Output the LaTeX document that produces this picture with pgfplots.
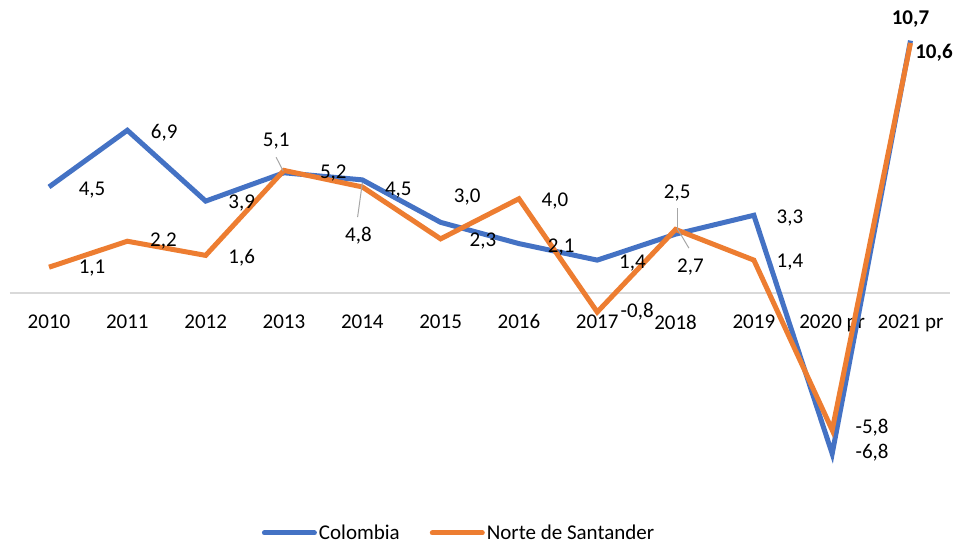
\documentclass[border=0pt]{standalone}
\usepackage{fontspec}
\setmainfont{Carlito}
\usepackage{pgfplots}
\pgfplotsset{compat=1.18}
\definecolor{colblue}{HTML}{4472C4}
\definecolor{nsorange}{HTML}{ED7D31}
\definecolor{zeroline}{HTML}{D9D9D9}
\definecolor{leader}{HTML}{A6A6A6}
\begin{document}
\begin{tikzpicture}[font=\fontsize{21}{25}\selectfont]
\begin{axis}[
  x=78.3pt, y=23.6pt,
  xmin=-0.5, xmax=11.5, ymin=-8, ymax=12,
  axis x line=middle, axis y line=none,
  x axis line style={-, draw=zeroline, line width=1.5pt},
  xtick={0,...,11},
  xticklabels={2010,2011,2012,2013,2014,2015,2016,2017,2018,2019,2020 pr,2021 pr},
  major tick length=0pt,
  hide obscured x ticks=false,
  xticklabel style={font=\fontsize{21}{25}\selectfont, yshift=-18pt},
  clip=false,
  legend columns=2,
  legend style={draw=none, fill=none, at={(0.478,-0.108)}, anchor=center,
    font=\fontsize{21}{25}\selectfont,
    /tikz/every even column/.append style={column sep=28pt}},
  legend image code/.code={\draw[#1, line cap=round] (0pt,0pt) -- (50pt,0pt);},
]
\addplot[colblue, line width=5pt, line join=miter] coordinates {
  (0,4.5) (1,6.9) (2,3.9) (3,5.1) (4,4.8) (5,3.0)
  (6,2.1) (7,1.4) (8,2.5) (9,3.3) (10,-6.8) (11,10.7)};
\addlegendentry{Colombia}
\addplot[nsorange, line width=5pt, line join=miter] coordinates {
  (0,1.1) (1,2.2) (2,1.6) (3,5.2) (4,4.5) (5,2.3)
  (6,4.0) (7,-0.8) (8,2.7) (9,1.4) (10,-5.8) (11,10.6)};
\addlegendentry{Norte de Santander}

% leader lines
\draw[leader, line width=1pt] (axis cs:2.90,5.76) -- (axis cs:2.99,5.17);
\draw[leader, line width=1pt] (axis cs:4.00,4.66) -- (axis cs:3.94,3.22);
\draw[leader, line width=1pt] (axis cs:8.02,3.60) -- (axis cs:8.02,2.67);
\draw[leader, line width=1pt] (axis cs:8.02,2.75) -- (axis cs:8.17,1.91);

% Colombia labels
\node at (axis cs:0.55,4.36) {4,5};
\node at (axis cs:1.47,6.78) {6,9};
\node at (axis cs:2.46,3.81) {3,9};
\node at (axis cs:2.90,6.44) {5,1};
\node at (axis cs:3.95,2.42) {4,8};
\node at (axis cs:5.34,4.07) {3,0};
\node at (axis cs:6.54,1.95) {2,1};
\node at (axis cs:7.45,1.27) {1,4};
\node at (axis cs:8.02,4.24) {2,5};
\node at (axis cs:9.46,3.18) {3,3};
\node at (axis cs:10.51,-6.74) {-6,8};
\node[font=\fontsize{21}{25}\selectfont\bfseries] at (axis cs:11.0,11.6) {10,7};

% Norte de Santander labels
\node at (axis cs:0.55,1.06) {1,1};
\node at (axis cs:1.46,2.20) {2,2};
\node at (axis cs:2.46,1.48) {1,6};
\node at (axis cs:3.63,5.08) {5,2};
\node at (axis cs:4.46,4.36) {4,5};
\node at (axis cs:5.54,2.20) {2,3};
\node at (axis cs:6.46,3.90) {4,0};
\node at (axis cs:7.51,-0.80) {-0,8};
\node at (axis cs:8.19,1.10) {2,7};
\node at (axis cs:9.46,1.31) {1,4};
\node at (axis cs:10.51,-5.68) {-5,8};
\node[font=\fontsize{21}{25}\selectfont\bfseries] at (axis cs:11.30,10.17) {10,6};

\coordinate (bbsw) at (axis cs:-0.626,-10.8);
\coordinate (bbne) at (axis cs:11.58,12.42);
\end{axis}
\useasboundingbox (bbsw) rectangle (bbne);
\end{tikzpicture}
\end{document}
